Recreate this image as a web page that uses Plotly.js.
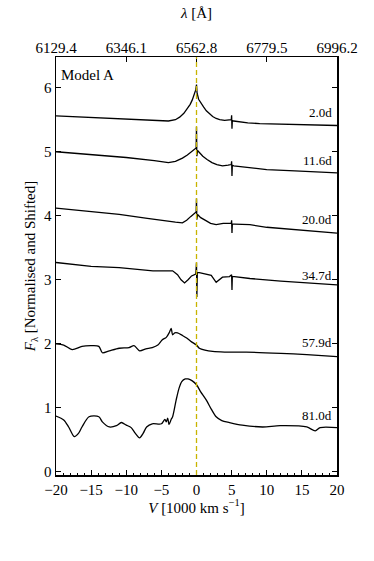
<!DOCTYPE html>
<html>
<head>
<meta charset="utf-8">
<script src="https://cdn.plot.ly/plotly-3.0.1.min.js"></script>
<style>
  html, body { margin: 0; padding: 0; background: #fff; }
  #chart { width: 374px; height: 561px; }
</style>
</head>
<body>
<div id="chart"></div>
<script>
// epochs (days) and their label heights
const epochLabels = ['2.0d', '11.6d', '20.0d', '34.7d', '57.9d', '81.0d'];
const labelY = [5.61, 4.86, 3.94, 3.06, 2.02, 0.875];

// top axis: wavelength at V = -20, -10, 0, 10, 20
const topTickV = [-20, -10, 0, 10, 20];
const topTickLam = ['6129.4', '6346.1', '6562.8', '6779.5', '6996.2'];

// spectra, velocity in 1000 km/s, shifted flux
const vDay2 = [-20, -16, -12, -8, -5, -4, -3, -2.4, -1.8, -1.3, -0.9, -0.6, -0.3, -0.1, 0, 0.08, 0.3, 0.6, 1.0, 1.4, 1.9, 2.3, 2.8, 3.3, 4.0, 4.6, 4.95, 5.0, 5.05, 5.1, 5.3, 6, 7.3, 9, 12, 16, 20];
const fDay2 = [5.56, 5.54, 5.52, 5.5, 5.49, 5.48, 5.5, 5.54, 5.6, 5.67, 5.74, 5.81, 5.9, 5.97, 6.05, 5.92, 5.82, 5.76, 5.7, 5.64, 5.59, 5.55, 5.52, 5.5, 5.49, 5.49, 5.5, 5.57, 5.36, 5.49, 5.48, 5.47, 5.45, 5.44, 5.43, 5.42, 5.41];

const vDay11 = [-20, -15, -10, -6, -4, -3, -2, -1.3, -0.7, -0.3, -0.05, 0, 0.05, 0.15, 0.5, 0.9, 1.5, 2.2, 2.9, 3.7, 4.5, 4.95, 5.0, 5.05, 5.1, 5.3, 7.3, 10, 14, 20];
const fDay11 = [5.0, 4.96, 4.91, 4.86, 4.83, 4.85, 4.9, 4.95, 5.0, 5.03, 5.06, 5.39, 4.93, 5.02, 4.97, 4.93, 4.88, 4.83, 4.8, 4.78, 4.79, 4.8, 4.85, 4.62, 4.79, 4.78, 4.75, 4.72, 4.7, 4.67];

const vDay20 = [-20, -15, -11, -7, -4, -3, -2, -1.4, -0.8, -0.3, -0.05, 0, 0.05, 0.15, 0.6, 1.4, 2.0, 2.8, 3.3, 3.8, 4.7, 4.95, 5.0, 5.05, 5.1, 5.4, 7.6, 10, 14, 20];
const fDay20 = [4.12, 4.07, 4.02, 3.96, 3.91, 3.9, 3.89, 3.93, 3.99, 4.04, 4.06, 4.27, 3.94, 4.02, 3.97, 3.92, 3.88, 3.86, 3.87, 3.88, 3.88, 3.88, 3.93, 3.73, 3.87, 3.87, 3.86, 3.82, 3.78, 3.73];

const vDay34 = [-20, -15, -11, -6.2, -3.4, -2.7, -2.2, -1.7, -1.2, -0.7, -0.1, 0, 0.05, 0.12, 0.4, 1.2, 2.1, 2.8, 3.7, 4.7, 5.0, 5.05, 5.1, 5.4, 7.6, 12, 16, 20];
const fDay34 = [3.27, 3.21, 3.19, 3.14, 3.14, 3.08, 3.0, 2.95, 3.0, 3.06, 3.09, 3.27, 2.73, 3.11, 3.11, 3.09, 3.07, 2.96, 3.04, 3.05, 3.08, 2.84, 3.05, 3.05, 3.02, 2.98, 2.95, 2.92];

const vDay57 = [-20, -18.9, -17.7, -16.3, -15, -13.9, -13.4, -12.4, -11, -9.6, -8.9, -8.1, -7.2, -6.3, -5.5, -4.9, -4.3, -3.9, -3.6, -3.4, -3.1, -2.7, -2.0, -1.4, -0.7, 0, 0.4, 1.2, 2.3, 4, 7.1, 12, 15.7, 20];
const fDay57 = [2.0, 1.98, 1.91, 1.96, 1.97, 1.96, 1.86, 1.89, 1.93, 1.94, 1.97, 1.89, 1.92, 1.94, 1.98, 2.06, 2.1, 2.17, 2.24, 2.14, 2.17, 2.17, 2.13, 2.09, 2.03, 1.98, 1.93, 1.9, 1.88, 1.87, 1.87, 1.85, 1.83, 1.8];

const vDay81 = [-20, -18.9, -18.2, -17.4, -16.8, -16.3, -15.3, -13.9, -13.4, -12.4, -11.4, -10.7, -10, -9.3, -8.7, -8.1, -7.6, -7.1, -6.3, -5, -4.5, -4.3, -4.1, -3.9, -3.6, -3.4, -2.9, -2.5, -2.1, -1.6, -1.2, -0.6, 0, 0.6, 1.4, 2.1, 2.8, 3.6, 4.7, 6.5, 9.4, 11.9, 15.7, 16.9, 17.6, 20];
const fDay81 = [0.87, 0.81, 0.7, 0.55, 0.6, 0.7, 0.86, 0.86, 0.78, 0.7, 0.72, 0.77, 0.73, 0.69, 0.6, 0.53, 0.6, 0.7, 0.75, 0.75, 0.82, 0.78, 0.84, 0.74, 0.82, 0.86, 1.12, 1.3, 1.41, 1.45, 1.45, 1.42, 1.36, 1.25, 1.12, 0.98, 0.86, 0.8, 0.77, 0.73, 0.7, 0.72, 0.7, 0.64, 0.69, 0.69];

const spectra = [
    [vDay2, fDay2], [vDay11, fDay11], [vDay20, fDay20],
    [vDay34, fDay34], [vDay57, fDay57], [vDay81, fDay81]
];

const serif = '"Liberation Serif", "Times New Roman", serif';

// the late, smooth spectra get a spline; the early ones keep their sharp spikes
const traces = spectra.map((s, i) => ({
    x: s[0],
    y: s[1],
    name: epochLabels[i],
    type: 'scatter',
    mode: 'lines',
    // last one sits on the top (wavelength) axis so that axis gets drawn; same range
    xaxis: i === spectra.length - 1 ? 'x2' : 'x',
    line: { color: '#000', width: 1.3, shape: i >= 4 ? 'spline' : 'linear', smoothing: 0.8 },
    hoverinfo: 'skip'
}));

const annotations = epochLabels.map((t, i) => ({
    text: t,
    xref: 'paper', yref: 'y',
    x: 1, y: labelY[i],
    xanchor: 'right', yanchor: 'middle',
    xshift: -3,
    showarrow: false,
    font: { family: serif, size: 13, color: '#000' }
}));

annotations.push({
    text: 'Model A',
    xref: 'paper', yref: 'paper',
    x: 0.01, y: 0.957,
    xanchor: 'left', yanchor: 'middle',
    showarrow: false,
    font: { family: serif, size: 15, color: '#000' }
});

const layout = {
    width: 374,
    height: 561,
    margin: { l: 56, r: 37, t: 57, b: 86 },
    font: { family: serif, size: 15, color: '#000' },
    showlegend: false,
    paper_bgcolor: '#fff',
    plot_bgcolor: '#fff',
    xaxis: {
        range: [-20, 20],
        dtick: 5,
        ticks: 'inside',
        ticklen: 5,
        tickwidth: 1,
        tickcolor: '#000',
        showline: true,
        linecolor: '#000',
        linewidth: 1.5,
        mirror: true,
        showgrid: false,
        zeroline: false,
        minor: { dtick: 1, ticks: 'inside', ticklen: 2.5, tickcolor: '#000', showgrid: false },
        tickfont: { family: serif, size: 15 },
        title: { text: '<i>V</i> [1000 km s<sup>−1</sup>]', font: { family: serif, size: 15 }, standoff: 0 }
    },
    xaxis2: {
        overlaying: 'x',
        side: 'top',
        anchor: 'y',
        range: [-20, 20],
        tickmode: 'array',
        tickvals: topTickV,
        ticktext: topTickLam,
        ticks: 'inside',
        ticklen: 5,
        tickcolor: '#000',
        showgrid: false,
        zeroline: false,
        tickfont: { family: serif, size: 15 },
        title: { text: '<i>λ</i> [Å]', font: { family: serif, size: 15 }, standoff: 17 }
    },
    yaxis: {
        range: [-0.05, 6.48],
        dtick: 1,
        ticks: 'inside',
        ticklen: 5,
        tickcolor: '#000',
        showline: true,
        linecolor: '#000',
        linewidth: 1.5,
        mirror: 'ticks',
        showgrid: false,
        zeroline: false,
        tickfont: { family: serif, size: 15 },
        title: { text: '<i>F</i><sub>λ</sub> [Normalised and Shifted]', font: { family: serif, size: 15 }, standoff: 5 }
    },
    shapes: [{
        type: 'line',
        xref: 'x', yref: 'paper',
        x0: 0, x1: 0, y0: 0, y1: 1,
        layer: 'above',
        line: { color: '#c8b400', width: 1.3, dash: '5px,3px' }
    }],
    annotations: annotations
};

Plotly.newPlot('chart', traces, layout, { displayModeBar: false, staticPlot: true });
</script>
</body>
</html>
